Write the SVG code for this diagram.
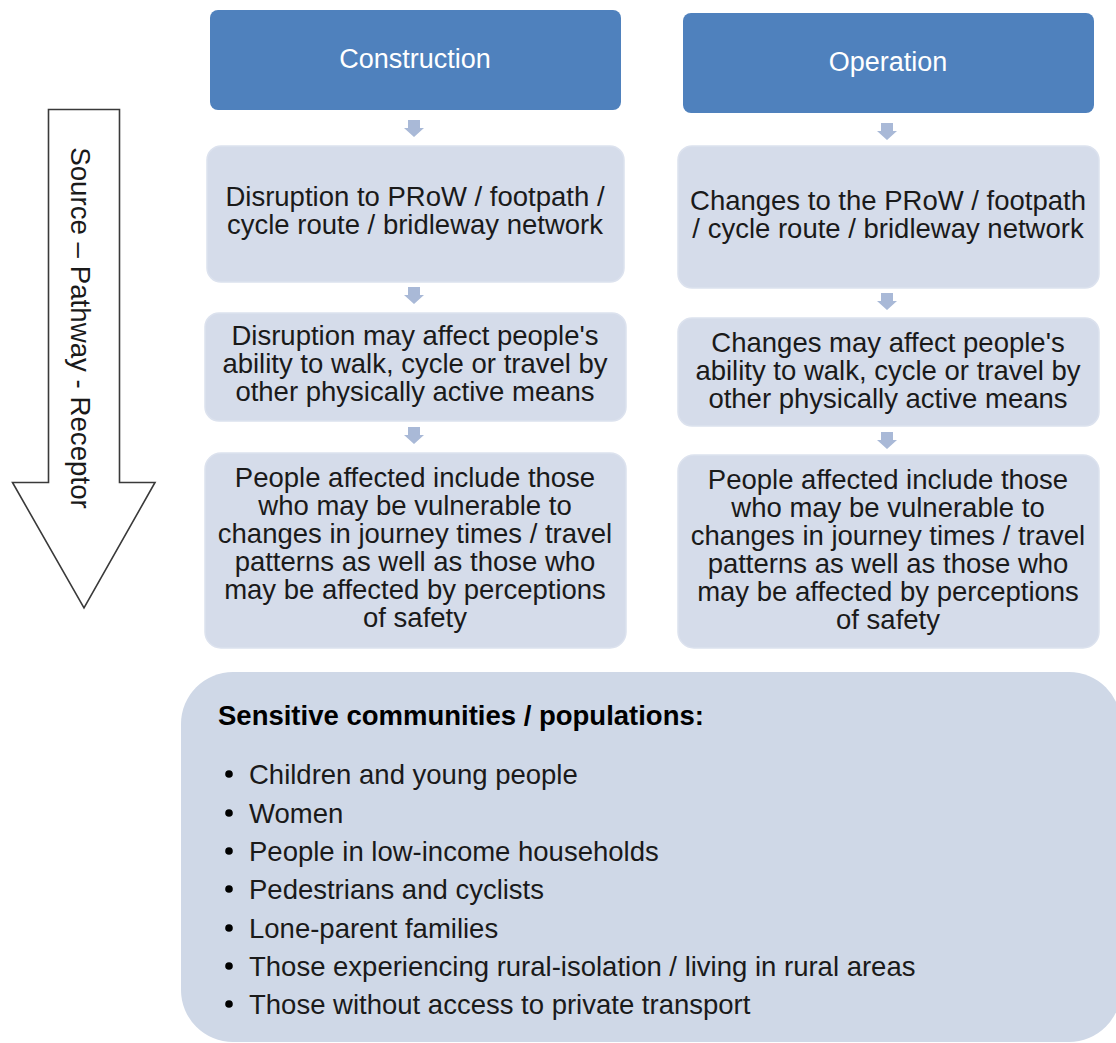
<svg xmlns="http://www.w3.org/2000/svg" width="1116" height="1043" viewBox="0 0 1116 1043">
<defs>
<style>
.hdr{fill:#4f81bd;}
.box{fill:#d5dcea;stroke:#dce2ee;stroke-width:1.5;}
.ht{font-family:"Liberation Sans",Arial,sans-serif;font-size:27px;fill:#ffffff;text-anchor:middle;}
.bt{font-family:"Liberation Sans",Arial,sans-serif;font-size:27.5px;fill:#1a1a1a;text-anchor:middle;}
.lt{font-family:"Liberation Sans",Arial,sans-serif;font-size:27.5px;fill:#1a1a1a;}
.hb{font-family:"Liberation Sans",Arial,sans-serif;font-size:27.5px;font-weight:bold;fill:#000000;}
.arr{fill:#a9b9d7;}
</style>
</defs>
<rect width="1116" height="1043" fill="#ffffff"/>

<g id="source-pathway-receptor">
<path d="M48.5,109.5 H119.5 V482.5 H155 L84,608 L12.5,482.5 H48.5 Z" fill="#ffffff" stroke="#3a3a3a" stroke-width="1.6"/>
<text class="lt" transform="translate(71,328) rotate(90)" text-anchor="middle" style="font-size:27.7px">Source – Pathway - Receptor</text>
</g>

<g id="construction">
<rect class="hdr" x="210" y="10" width="411" height="100" rx="8"/>
<text class="ht" x="415" y="68">Construction</text>
</g>
<g id="operation">
<rect class="hdr" x="683" y="13" width="411" height="100" rx="8"/>
<text class="ht" x="888" y="71">Operation</text>
</g>

<g id="c-source">
<rect class="box" x="207" y="146" width="417" height="136" rx="14"/>
<text class="bt" x="415" y="206">Disruption to PRoW / footpath /</text>
<text class="bt" x="415" y="234">cycle route / bridleway network</text>
</g>
<g id="o-source">
<rect class="box" x="678" y="146" width="421" height="142" rx="14"/>
<text class="bt" x="888" y="210">Changes to the PRoW / footpath</text>
<text class="bt" x="888" y="238">/ cycle route / bridleway network</text>
</g>

<g id="c-pathway">
<rect class="box" x="205" y="313" width="421" height="108" rx="14"/>
<text class="bt" x="415" y="345">Disruption may affect people's</text>
<text class="bt" x="415" y="373">ability to walk, cycle or travel by</text>
<text class="bt" x="415" y="401">other physically active means</text>
</g>
<g id="o-pathway">
<rect class="box" x="678" y="318" width="421" height="108" rx="14"/>
<text class="bt" x="888" y="352">Changes may affect people's</text>
<text class="bt" x="888" y="380">ability to walk, cycle or travel by</text>
<text class="bt" x="888" y="408">other physically active means</text>
</g>

<g id="c-receptor">
<rect class="box" x="205" y="453" width="421" height="195" rx="16"/>
<text class="bt" x="415" y="487">People affected include those</text>
<text class="bt" x="415" y="515">who may be vulnerable to</text>
<text class="bt" x="415" y="543">changes in journey times / travel</text>
<text class="bt" x="415" y="571">patterns as well as those who</text>
<text class="bt" x="415" y="599">may be affected by perceptions</text>
<text class="bt" x="415" y="627">of safety</text>
</g>
<g id="o-receptor">
<rect class="box" x="678" y="455" width="421" height="193" rx="16"/>
<text class="bt" x="888" y="489">People affected include those</text>
<text class="bt" x="888" y="517">who may be vulnerable to</text>
<text class="bt" x="888" y="545">changes in journey times / travel</text>
<text class="bt" x="888" y="573">patterns as well as those who</text>
<text class="bt" x="888" y="601">may be affected by perceptions</text>
<text class="bt" x="888" y="629">of safety</text>
</g>

<g id="sensitive-communities">
<rect x="181" y="672" width="940" height="370" rx="52" fill="#cfd8e7"/>
<text class="hb" x="218" y="725">Sensitive communities / populations:</text>
<g fill="#000000">
<circle cx="229" cy="774" r="3.8"/>
<circle cx="229" cy="813" r="3.8"/>
<circle cx="229" cy="851" r="3.8"/>
<circle cx="229" cy="889" r="3.8"/>
<circle cx="229" cy="928" r="3.8"/>
<circle cx="229" cy="966" r="3.8"/>
<circle cx="229" cy="1004" r="3.8"/>
</g>
<text class="lt" x="249" y="784">Children and young people</text>
<text class="lt" x="249" y="823">Women</text>
<text class="lt" x="249" y="861">People in low-income households</text>
<text class="lt" x="249" y="899">Pedestrians and cyclists</text>
<text class="lt" x="249" y="938">Lone-parent families</text>
<text class="lt" x="249" y="976">Those experiencing rural-isolation / living in rural areas</text>
<text class="lt" x="249" y="1014">Those without access to private transport</text>
</g>

<g id="connectors">
<path class="arr" d="M408,120 h12 v8 h4 l-10,9 l-10,-9 h4 z"/>
<path class="arr" d="M408,287 h12 v8 h4 l-10,9 l-10,-9 h4 z"/>
<path class="arr" d="M408,427 h12 v8 h4 l-10,9 l-10,-9 h4 z"/>
<path class="arr" d="M881,123 h12 v8 h4 l-10,9 l-10,-9 h4 z"/>
<path class="arr" d="M881,293 h12 v8 h4 l-10,9 l-10,-9 h4 z"/>
<path class="arr" d="M881,432 h12 v8 h4 l-10,9 l-10,-9 h4 z"/>
</g>
</svg>
